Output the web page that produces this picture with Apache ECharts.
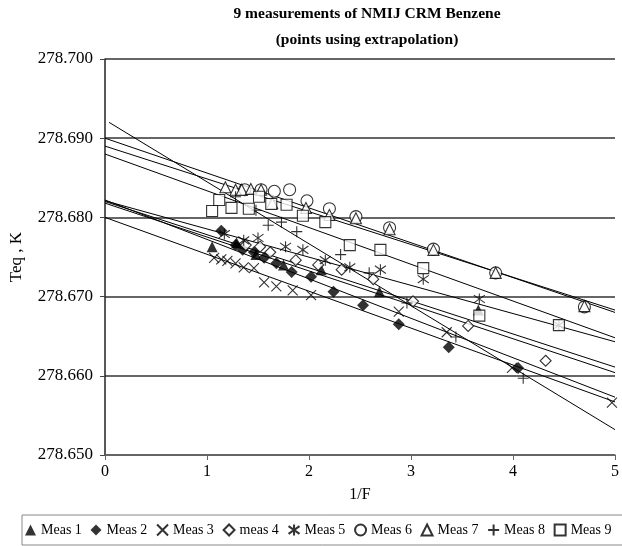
<!DOCTYPE html>
<html>
<head>
<meta charset="utf-8">
<script src="https://cdn.jsdelivr.net/npm/echarts@6/dist/echarts.min.js"></script>
<style>
  html, body { margin: 0; padding: 0; background: #fff; }
  #chart { width: 622px; height: 546px; }
</style>
</head>
<body>
<div id="chart"></div>
<script>
// series names as in the legend
const names = ['Meas 1', 'Meas 2', 'Meas 3', 'meas 4', 'Meas 5', 'Meas 6', 'Meas 7', 'Meas 8', 'Meas 9'];

// points: [1/F, Teq]
const meas1 = [[1.05, 278.6763], [1.29, 278.6768], [1.48, 278.6753], [1.75, 278.6740], [2.12, 278.6734], [2.69, 278.6706], [3.66, 278.6683]];
const meas2 = [[1.14, 278.6783], [1.28, 278.6765], [1.35, 278.6759], [1.46, 278.6756], [1.56, 278.6749], [1.68, 278.6742],
               [1.83, 278.6731], [2.02, 278.6725], [2.24, 278.6706], [2.53, 278.6689], [2.88, 278.6665], [3.37, 278.6636], [4.05, 278.6610]];
const meas3 = [[1.07, 278.6749], [1.14, 278.6747], [1.20, 278.6745], [1.28, 278.6742], [1.36, 278.6737], [1.46, 278.6736],
               [1.56, 278.6718], [1.68, 278.6713], [1.84, 278.6708], [2.02, 278.6702], [2.88, 278.6681], [3.35, 278.6655],
               [3.99, 278.6610], [4.97, 278.6566]];
const meas4 = [[1.38, 278.6765], [1.52, 278.6763], [1.62, 278.6756], [1.87, 278.6746], [2.09, 278.6740], [2.32, 278.6734],
               [2.63, 278.6722], [3.02, 278.6694], [3.56, 278.6663], [4.32, 278.6619]];
const meas5 = [[1.17, 278.6779], [1.36, 278.6771], [1.50, 278.6774], [1.77, 278.6763], [1.94, 278.6759], [2.16, 278.6746],
               [2.40, 278.6737], [2.70, 278.6734], [3.12, 278.6722], [3.67, 278.6697], [4.45, 278.6664]];
const meas6 = [[1.37, 278.6835], [1.53, 278.6835], [1.66, 278.6833], [1.81, 278.6835], [1.98, 278.6821], [2.20, 278.6811],
               [2.46, 278.6801], [2.79, 278.6787], [3.22, 278.6760], [3.83, 278.6730], [4.70, 278.6687]];
const meas7 = [[1.18, 278.6838], [1.28, 278.6835], [1.34, 278.6835], [1.43, 278.6836], [1.53, 278.6835], [1.64, 278.6818],
               [1.97, 278.6812], [2.20, 278.6803], [2.46, 278.6799], [2.79, 278.6785], [3.22, 278.6759], [3.83, 278.6730], [4.70, 278.6688]];
const meas8 = [[1.28, 278.6826], [1.48, 278.6809], [1.60, 278.6790], [1.73, 278.6794], [1.88, 278.6782], [2.31, 278.6753],
               [2.59, 278.6730], [2.96, 278.6692], [3.44, 278.6649], [4.10, 278.6597]];
const meas9 = [[1.05, 278.6808], [1.12, 278.6822], [1.24, 278.6812], [1.41, 278.6811], [1.51, 278.6826], [1.63, 278.6817],
               [1.78, 278.6816], [1.94, 278.6802], [2.16, 278.6794], [2.40, 278.6765], [2.70, 278.6759], [3.12, 278.6736],
               [3.67, 278.6676], [4.45, 278.6664]];

// extrapolated trend lines: start x, value at start, value at x = 5
const trendFromX = [0, 0, 0, 0, 0, 0, 0, 0.04, 0];
const trendStart = [278.6820, 278.6822, 278.6800, 278.6818, 278.6821, 278.6900, 278.6890, 278.6920, 278.6880];
const trendEnd   = [278.6611, 278.6573, 278.6567, 278.6604, 278.6643, 278.6680, 278.6683, 278.6532, 278.6648];

const yTicks = [278.65, 278.66, 278.67, 278.68, 278.69, 278.70];

const points = [meas1, meas2, meas3, meas4, meas5, meas6, meas7, meas8, meas9];

// marker for each measurement
const crossPath = 'path://M0,0L10,10M10,0L0,10';
const plusPath = 'path://M5,0L5,10M0,5L10,5';
const starPath = 'path://M0,1.5L10,8.5M10,1.5L0,8.5M5,0L5,10';
const markers = [
    {symbol: 'triangle', size: 11, fill: '#000'},
    {symbol: 'diamond', size: 12, fill: '#000'},
    {symbol: crossPath, size: 10, fill: 'transparent'},
    {symbol: 'diamond', size: 11, fill: '#fff'},
    {symbol: starPath, size: 11, fill: 'transparent'},
    {symbol: 'circle', size: 12, fill: '#fff'},
    {symbol: 'triangle', size: 11, fill: '#fff'},
    {symbol: plusPath, size: 11, fill: 'transparent'},
    {symbol: 'rect', size: 11, fill: '#fff'},
];

const font = '"Liberation Serif", "Times New Roman", serif';

let series = [];
names.forEach((name, i) => {
    series.push({
        name: name + ' trend',
        type: 'line',
        data: [[trendFromX[i], trendStart[i]], [5, trendEnd[i]]],
        showSymbol: false,
        silent: true,
        lineStyle: {color: '#000', width: 1},
        z: 2
    });
});
names.forEach((name, i) => {
    const m = markers[i];
    series.push({
        name: name,
        type: 'scatter',
        data: points[i],
        symbol: m.symbol,
        symbolSize: m.size,
        itemStyle: {color: m.fill, borderColor: '#000', borderWidth: m.fill === '#000' ? 0 : 1.1},
        z: 3
    });
});

const chart = echarts.init(document.getElementById('chart'), null, {renderer: 'canvas'});
chart.setOption({
    animation: false,
    backgroundColor: '#fff',
    title: {
        text: '9 measurements of NMIJ CRM Benzene\n(points using extrapolation)',
        left: 362,
        top: -4,
        textAlign: 'center',
        textStyle: {fontFamily: font, fontSize: 15.5, fontWeight: 'bold', color: '#000', lineHeight: 26}
    },
    grid: {left: 105, right: 2, top: 59, bottom: 91},
    xAxis: {
        type: 'value',
        min: 0, max: 5, interval: 1,
        name: '1/F',
        nameLocation: 'middle',
        nameGap: 32,
        nameTextStyle: {fontFamily: font, fontSize: 16, color: '#000'},
        axisLine: {show: true, lineStyle: {color: '#666', width: 1.5}},
        axisTick: {show: true, length: 5, lineStyle: {color: '#666'}},
        axisLabel: {fontFamily: font, fontSize: 16, color: '#000', margin: 9},
        splitLine: {show: false}
    },
    yAxis: {
        type: 'value',
        min: yTicks[0], max: yTicks[yTicks.length - 1], interval: 0.01,
        name: 'Teq , K',
        nameLocation: 'middle',
        nameGap: 80,
        nameTextStyle: {fontFamily: font, fontSize: 17, color: '#000'},
        axisLine: {show: true, lineStyle: {color: '#222', width: 1.5}},
        axisTick: {show: true, length: 5, lineStyle: {color: '#444'}},
        axisLabel: {fontFamily: font, fontSize: 17, color: '#000', margin: 12, formatter: v => v.toFixed(3)},
        splitLine: {show: true, lineStyle: {color: '#333', width: 1.5}}
    },
    legend: {
        data: names,
        left: 22,
        top: 515,
        width: 700,
        orient: 'horizontal',
        padding: [8, 40, 8, 3],
        itemGap: 8.7,
        itemWidth: 11,
        itemHeight: 11,
        borderColor: '#888',
        borderWidth: 1,
        textStyle: {fontFamily: font, fontSize: 14, color: '#000'}
    },
    series: series
});
</script>
</body>
</html>
